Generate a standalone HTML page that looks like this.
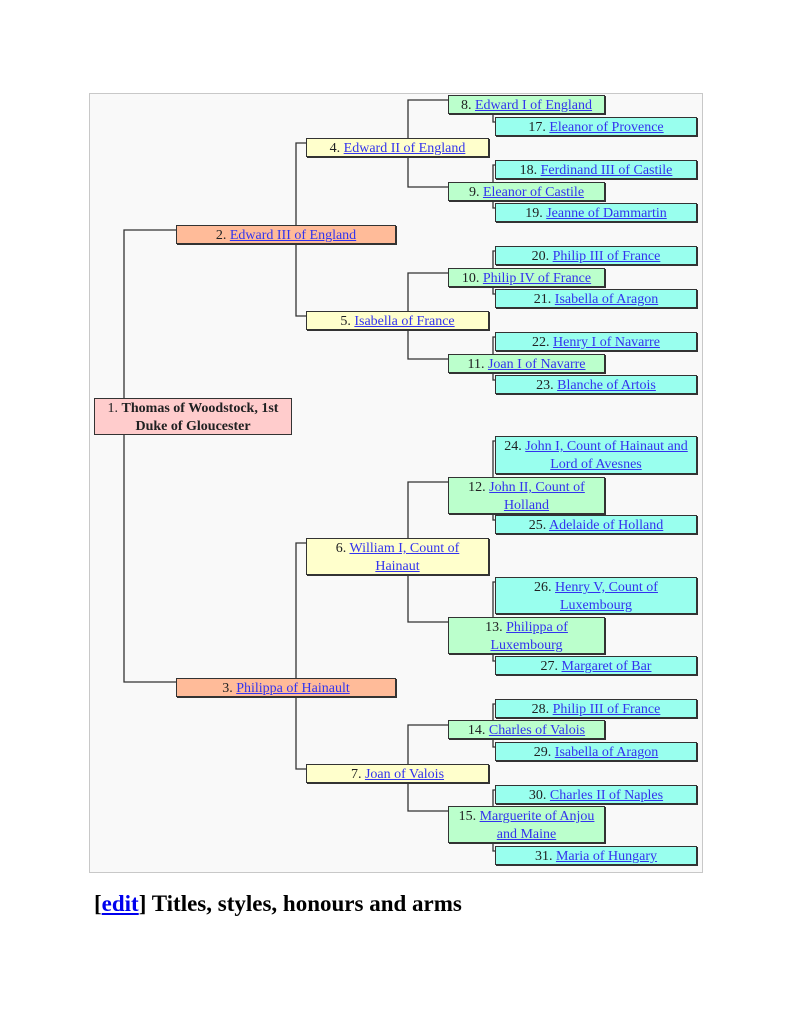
<!DOCTYPE html>
<html><head><meta charset="utf-8"><style>
body{margin:0;background:#fff;width:791px;height:1023px;position:relative;font-family:"Liberation Serif",serif;}
#frame{position:absolute;left:89px;top:93px;width:612px;height:778px;border:1px solid #c8c8c8;background:#f9f9f9;}
.b{position:absolute;box-sizing:border-box;border:1px solid #333;box-shadow:1px 1px 0 #333;font-size:14px;line-height:18px;text-align:center;color:#202122;padding-top:1px;}
.b a{color:#3333ee;text-decoration:underline;}
.r{background:#fcc}.o{background:#fb9}.y{background:#ffc}.g{background:#bfc}.c{background:#9fe}
svg{position:absolute;left:0;top:0}
h2{position:absolute;left:94px;top:891px;margin:0;font-size:23px;font-weight:bold;color:#000;}
h2 a{color:#0000ee;text-decoration:underline}
</style></head><body>
<div id="frame"></div>
<svg width="791" height="1023">
<g stroke="#333" stroke-width="1.3" fill="none">
<path d="M176 230H124V682H176"/>
<path d="M306 143H296V316H306"/>
<path d="M306 543H296V769H306"/>
<path d="M448 100H408V187H448"/>
<path d="M448 273H408V359H448"/>
<path d="M448 482H408V622H448"/>
<path d="M448 725H408V811H448"/>
<path d="M493 114V122H495"/>
<path d="M495 165H493V182M493 201V208H495"/>
<path d="M495 251H493V268M493 287V294H495"/>
<path d="M495 337H493V354M493 373V380H495"/>
<path d="M495 441H493V477M493 514V520H495"/>
<path d="M495 582H493V617M493 654V661H495"/>
<path d="M495 704H493V720M493 739V747H495"/>
<path d="M495 790H493V806M493 843V851H495"/>
</g></svg>
<div class="b r" style="left:94px;top:398px;width:198px;height:37px;box-shadow:none"><span>1. <b>Thomas of Woodstock, 1st Duke of Gloucester</b></span></div>
<div class="b o" style="left:176px;top:225px;width:220px;height:19px">2. <a>Edward III of England</a></div>
<div class="b o" style="left:176px;top:678px;width:220px;height:19px">3. <a>Philippa of Hainault</a></div>
<div class="b y" style="left:306px;top:138px;width:183px;height:19px">4. <a>Edward II of England</a></div>
<div class="b y" style="left:306px;top:311px;width:183px;height:19px">5. <a>Isabella of France</a></div>
<div class="b y" style="left:306px;top:538px;width:183px;height:37px;padding:1px 20px 0">6. <a>William I, Count of Hainaut</a></div>
<div class="b y" style="left:306px;top:764px;width:183px;height:19px">7. <a>Joan of Valois</a></div>
<div class="b g" style="left:448px;top:95px;width:157px;height:19px">8. <a>Edward I of England</a></div>
<div class="b g" style="left:448px;top:182px;width:157px;height:19px">9. <a>Eleanor of Castile</a></div>
<div class="b g" style="left:448px;top:268px;width:157px;height:19px">10. <a>Philip IV of France</a></div>
<div class="b g" style="left:448px;top:354px;width:157px;height:19px">11. <a>Joan I of Navarre</a></div>
<div class="b g" style="left:448px;top:477px;width:157px;height:37px;padding:1px 14px 0">12. <a>John II, Count of Holland</a></div>
<div class="b g" style="left:448px;top:617px;width:157px;height:37px;padding:1px 28px 0">13. <a>Philippa of Luxembourg</a></div>
<div class="b g" style="left:448px;top:720px;width:157px;height:19px">14. <a>Charles of Valois</a></div>
<div class="b g" style="left:448px;top:806px;width:157px;height:37px;padding:1px 4px 0">15. <a>Marguerite of Anjou and Maine</a></div>
<div class="b c" style="left:495px;top:117px;width:202px;height:19px">17. <a>Eleanor of Provence</a></div>
<div class="b c" style="left:495px;top:160px;width:202px;height:19px">18. <a>Ferdinand III of Castile</a></div>
<div class="b c" style="left:495px;top:203px;width:202px;height:19px">19. <a>Jeanne of Dammartin</a></div>
<div class="b c" style="left:495px;top:246px;width:202px;height:19px">20. <a>Philip III of France</a></div>
<div class="b c" style="left:495px;top:289px;width:202px;height:19px">21. <a>Isabella of Aragon</a></div>
<div class="b c" style="left:495px;top:332px;width:202px;height:19px">22. <a>Henry I of Navarre</a></div>
<div class="b c" style="left:495px;top:375px;width:202px;height:19px">23. <a>Blanche of Artois</a></div>
<div class="b c" style="left:495px;top:436px;width:202px;height:38px">24. <a>John I, Count of Hainaut and Lord of Avesnes</a></div>
<div class="b c" style="left:495px;top:515px;width:202px;height:19px">25. <a>Adelaide of Holland</a></div>
<div class="b c" style="left:495px;top:577px;width:202px;height:37px;padding:1px 28px 0">26. <a>Henry V, Count of Luxembourg</a></div>
<div class="b c" style="left:495px;top:656px;width:202px;height:19px">27. <a>Margaret of Bar</a></div>
<div class="b c" style="left:495px;top:699px;width:202px;height:19px">28. <a>Philip III of France</a></div>
<div class="b c" style="left:495px;top:742px;width:202px;height:19px">29. <a>Isabella of Aragon</a></div>
<div class="b c" style="left:495px;top:785px;width:202px;height:19px">30. <a>Charles II of Naples</a></div>
<div class="b c" style="left:495px;top:846px;width:202px;height:19px">31. <a>Maria of Hungary</a></div>
<h2>[<a>edit</a>] Titles, styles, honours and arms</h2>
</body></html>
